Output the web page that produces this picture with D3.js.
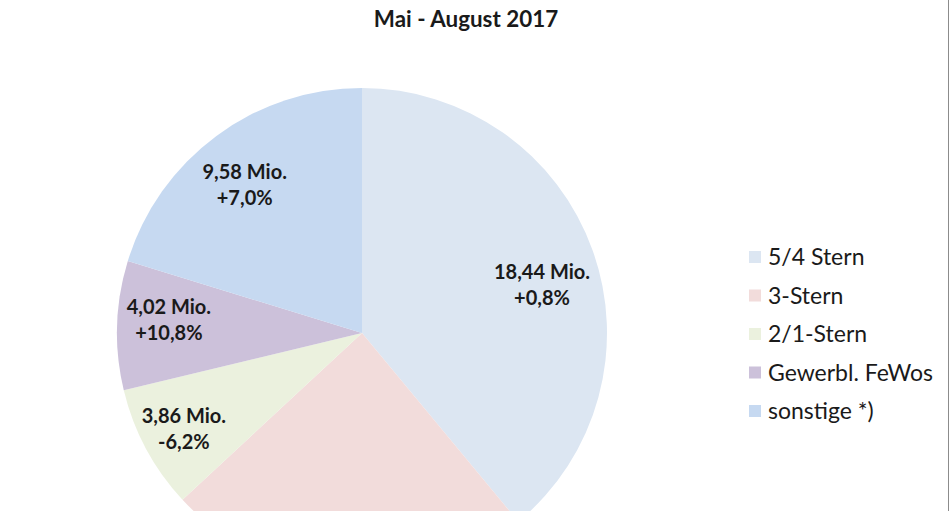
<!DOCTYPE html>
<html><head><meta charset="utf-8">
<script src="https://cdn.jsdelivr.net/npm/d3@7"></script>
<style>body{margin:0;background:#fff}svg{display:block}</style>
</head><body>
<script>
const categories = ["5/4 Stern", "3-Stern", "2/1-Stern", "Gewerbl. FeWos", "sonstige *)"];
const values = [18.44, 11.40, 3.86, 4.02, 9.58];
const valueLabels = ["18,44 Mio.", "", "3,86 Mio.", "4,02 Mio.", "9,58 Mio."];
const changeLabels = ["+0,8%", "", "-6,2%", "+10,8%", "+7,0%"];
const colors = ["#dce6f2", "#f2dcdb", "#ebf1de", "#ccc1da", "#c6d9f1"];
const subtitle = "Mai - August 2017";

const W = 950, H = 511;
const svg = d3.select("body").append("svg").attr("width", W).attr("height", H);
const font = "Lato, 'Open Sans', sans-serif";

svg.append("line").attr("x1", 948.5).attr("x2", 948.5).attr("y1", 0).attr("y2", H)
  .attr("stroke", "#8c8c8c").attr("stroke-width", 1);

svg.append("text").attr("x", 466).attr("y", 27).attr("text-anchor", "middle")
  .attr("font-family", font).attr("font-weight", "bold").attr("font-size", 22.4)
  .attr("fill", "#1a1a1a").text(subtitle);

const cx = 362, cy = 333, R = 245;
const data = categories.map((c, i) => ({c, v: values[i], i}));
const pie = d3.pie().value(d => d.v).sort(null);
const arcs = pie(data);
const arc = d3.arc().innerRadius(0).outerRadius(R);
const g = svg.append("g").attr("transform", `translate(${cx},${cy})`);
g.selectAll("path").data(arcs).join("path").attr("d", arc)
  .attr("fill", d => colors[d.data.i]);

// label placement: radial factor and small angular shift (degrees)
const labelFactor = [0.76, 0.88, 0.825, 0.79, 0.77];
const labelShift = [5, 0, 0, 2, -2];
arcs.forEach(a => {
  const i = a.data.i;
  if (!valueLabels[i]) return;
  const r = R * labelFactor[i];
  const ang = (a.startAngle + a.endAngle) / 2 + labelShift[i] * Math.PI / 180;
  const x = Math.sin(ang) * r, y = -Math.cos(ang) * r;
  const t = g.append("text").attr("text-anchor", "middle")
    .attr("font-family", font).attr("font-weight", "bold").attr("font-size", 20)
    .attr("fill", "#1a1a1a");
  t.append("tspan").attr("x", x).attr("y", y - 6).text(valueLabels[i]);
  t.append("tspan").attr("x", x).attr("y", y + 20).text(changeLabels[i]);
});

const lg = svg.append("g");
categories.forEach((c, i) => {
  const y = 257 + i * 38.5;
  lg.append("rect").attr("x", 749).attr("y", y - 6).attr("width", 12).attr("height", 12)
    .attr("fill", colors[i]);
  lg.append("text").attr("x", 768).attr("y", y + 8)
    .attr("font-family", font).attr("font-size", 23).attr("fill", "#1a1a1a").text(c);
});
</script>
</body></html>
